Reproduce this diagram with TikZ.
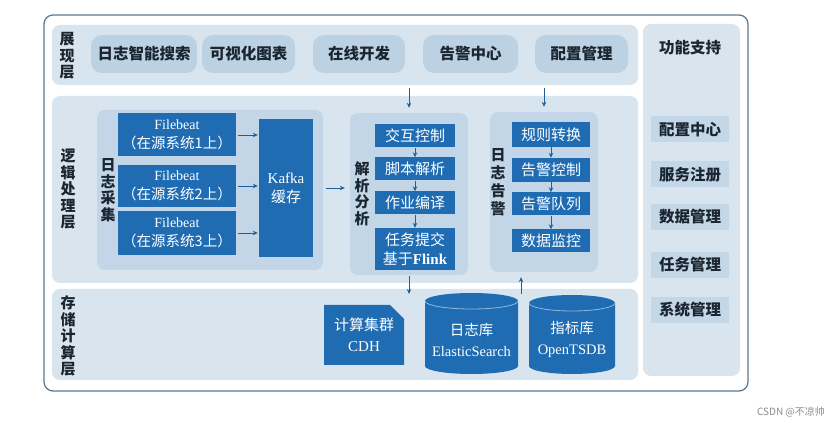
\documentclass[tikz,border=0pt]{standalone}
\usepackage{fontspec}
\setmainfont{Noto Sans CJK SC}
\newfontfamily\lat{Liberation Serif}
\usetikzlibrary{arrows.meta}
\definecolor{framec}{HTML}{5B7A92}
\definecolor{panelc}{HTML}{D8E5EF}
\definecolor{innerc}{HTML}{C2D6E7}
\definecolor{pillc}{HTML}{BCD1E2}
\definecolor{blueb}{HTML}{1F6CB3}
\definecolor{sidec}{HTML}{C4D7E6}
\definecolor{txtc}{HTML}{1A2530}
\definecolor{arrowc}{HTML}{1F5F9C}
\definecolor{rimc}{HTML}{8DB8E0}
\newcommand\fsz[2]{\fontsize{#1}{#2}\selectfont}
\begin{document}
\begin{tikzpicture}[x=1pt,y=-1pt,
  panelbox/.style={fill=panelc, rounded corners=8pt, inner sep=0pt},
  innerbox/.style={fill=innerc, rounded corners=8pt, inner sep=0pt},
  pillbox/.style={fill=pillc, rounded corners=11pt, font=\fsz{15.5}{17}\bfseries, text=txtc, inner sep=0pt, minimum height=38pt},
  bluebox/.style={fill=blueb, text=white, inner sep=0pt, font=\fsz{15}{19}, align=center},
  sidebox/.style={fill=sidec, text=txtc, font=\fsz{15.5}{17}\bfseries, inner sep=0pt, minimum width=78pt, minimum height=26pt},
  vlabel/.style={font=\fsz{15}{16.5}\bfseries, text=txtc, align=center, inner sep=0pt},
  arr/.style={draw=arrowc, line width=0.9pt, -{Stealth[length=5pt,width=4.5pt]}},
  docshape/.style={inner sep=0pt, path picture={\fill[blueb] (path picture bounding box.north west) -- ([xshift=-14pt]path picture bounding box.north east) -- ([yshift=-14pt]path picture bounding box.north east) -- (path picture bounding box.south east) -- (path picture bounding box.south west) -- cycle;}},
  cyl/.style={inner sep=0pt, path picture={
    \fill[blueb] ([yshift=-8pt]path picture bounding box.north west) -- ([yshift=8pt]path picture bounding box.south west) arc[start angle=180, end angle=360, x radius=#1, y radius=8pt] -- ([yshift=-8pt]path picture bounding box.north east) arc[start angle=0, end angle=180, x radius=#1, y radius=8pt] -- cycle;
    \draw[rimc, line width=0.8pt] ([yshift=-8pt]path picture bounding box.north west) arc[start angle=180, end angle=360, x radius=#1, y radius=8pt];}},
  cyltext/.style={text=white, font=\fsz{14.5}{21}, align=center, inner sep=0pt}
]
\useasboundingbox (0,0) rectangle (836,427);
\fill[white] (0,0) rectangle (836,427);

% outer frame
\node[draw=framec, line width=1.3pt, rounded corners=9pt, minimum width=704pt, minimum height=376pt, inner sep=0pt] (outer) at (396,203) {};

% panels
\node[panelbox, minimum width=586pt, minimum height=60pt] (top) at (345,55) {};
\node[panelbox, minimum width=586pt, minimum height=187pt] (mid) at (345,189.5) {};
\node[panelbox, minimum width=586pt, minimum height=91pt] (bot) at (345,334.5) {};
\node[panelbox, minimum width=97pt, minimum height=352pt] (side) at (691.5,200) {};

% layer labels
\node[vlabel] (l1) at (67,56) {展\\现\\层};
\node[vlabel] (l2) at (68,189) {逻\\辑\\处\\理\\层};
\node[vlabel] (l3) at (68,336) {存\\储\\计\\算\\层};

% top row
\node[pillbox, minimum width=106pt] (p1) at (144,54) {日志智能搜索};
\node[pillbox, minimum width=93pt] (p2) at (248.5,54) {可视化图表};
\node[pillbox, minimum width=92pt] (p3) at (359,54) {在线开发};
\node[pillbox, minimum width=95pt] (p4) at (470.5,54) {告警中心};
\node[pillbox, minimum width=93pt] (p5) at (581.5,54) {配置管理};

% log collection
\node[innerbox, minimum width=226pt, minimum height=160pt] (cj) at (210,190) {};
\node[vlabel] (cjl) at (108,190) {日\\志\\采\\集};
\node[bluebox, font=\fsz{14.5}{19}, minimum width=118pt, minimum height=43pt] (f1) at (177,135) {{\lat\fontsize{14}{19}\selectfont Filebeat}\\（在源系统1上）};
\node[bluebox, font=\fsz{14.5}{19}, minimum width=118pt, minimum height=42pt] (f2) at (177,186) {{\lat\fontsize{14}{19}\selectfont Filebeat}\\（在源系统2上）};
\node[bluebox, font=\fsz{14.5}{19}, minimum width=118pt, minimum height=44pt] (f3) at (177,233) {{\lat\fontsize{14}{19}\selectfont Filebeat}\\（在源系统3上）};
\node[bluebox, minimum width=54pt, minimum height=138pt] (kf) at (286,188) {{\lat Kafka}\\缓存};
\draw[arr, shorten <=2pt, shorten >=1pt] (f1.east) -- (f1.east -| kf.west);
\draw[arr, shorten <=2pt, shorten >=1pt] (f2.east) -- (f2.east -| kf.west);
\draw[arr, shorten <=2pt, shorten >=1pt] (f3.east) -- (f3.east -| kf.west);

% parse analysis
\node[innerbox, minimum width=118pt, minimum height=162pt] (jx) at (409,194) {};
\node[vlabel] (jxl) at (362,194) {解\\析\\分\\析};
\node[bluebox, minimum width=80pt, minimum height=23pt] (j1) at (415,136) {交互控制};
\node[bluebox, minimum width=80pt, minimum height=23pt] (j2) at (415,169) {脚本解析};
\node[bluebox, minimum width=80pt, minimum height=23pt] (j3) at (415,203) {作业编译};
\node[bluebox, minimum width=80pt, minimum height=42pt] (j4) at (415,249) {任务提交\\基于{\lat\bfseries Flink}};
\draw[arr] (j1.south) -- (j2.north);
\draw[arr] (j2.south) -- (j3.north);
\draw[arr] (j3.south) -- (j4.north);
\draw[arr, shorten <=13pt, shorten >=5pt] (kf.east) -- (kf.east -| jx.west);

% log alert
\node[innerbox, minimum width=108pt, minimum height=160pt] (gj) at (544,192) {};
\node[vlabel, font=\fsz{15}{18}\bfseries] (gjl) at (498,182) {日\\志\\告\\警};
\node[bluebox, minimum width=78pt, minimum height=25pt] (g1) at (551,134.5) {规则转换};
\node[bluebox, minimum width=78pt, minimum height=24pt] (g2) at (551,170) {告警控制};
\node[bluebox, minimum width=78pt, minimum height=23pt] (g3) at (551,204) {告警队列};
\node[bluebox, minimum width=78pt, minimum height=23pt] (g4) at (551,241) {数据监控};
\draw[arr] (g1.south) -- (g2.north);
\draw[arr] (g2.south) -- (g3.north);
\draw[arr] (g3.south) -- (g4.north);

% arrows from the presentation layer
\draw[arr, shorten <=3pt, shorten >=5pt] (top.south -| jx.north) -- (jx.north);
\draw[arr, shorten <=3pt, shorten >=5pt] (top.south -| gj.north) -- (gj.north);

% storage layer
\node[docshape, text=white, font=\fsz{15}{21}, align=center, minimum width=80pt, minimum height=60pt] (cdh) at (364,335) {计算集群\\{\lat CDH}};
\node[cyl=46.5pt, minimum width=93pt, minimum height=81pt] (es) at (471.5,333.5) {};
\node[cyltext] (est) at ([yshift=-6pt]es.center) {日志库\\{\lat ElasticSearch}};
\node[cyl=43pt, minimum width=86pt, minimum height=79pt] (ts) at (572,334.5) {};
\node[cyltext] (tst) at ([yshift=-5pt]ts.center) {指标库\\{\lat OpenTSDB}};
\coordinate (dn) at (409,294);
\draw[arr, shorten <=1pt] (jx.south) -- (dn);
\coordinate (upc) at (521,294);
\draw[arr, shorten >=5pt] (upc) -- (upc |- gj.south);

% support column
\node[vlabel, font=\fsz{15.5}{17}\bfseries] (fs) at (690,48) {功能支持};
\node[sidebox] (s1) at (690,129.5) {配置中心};
\node[sidebox] (s2) at (690,174.5) {服务注册};
\node[sidebox] (s3) at (690,217) {数据管理};
\node[sidebox] (s4) at (690,265) {任务管理};
\node[sidebox] (s5) at (690,310) {系统管理};

% watermark
\node[font=\fsz{10}{12}, text=black!45] (wm) at (791,412) {CSDN @不凉帅};
\end{tikzpicture}
\end{document}
